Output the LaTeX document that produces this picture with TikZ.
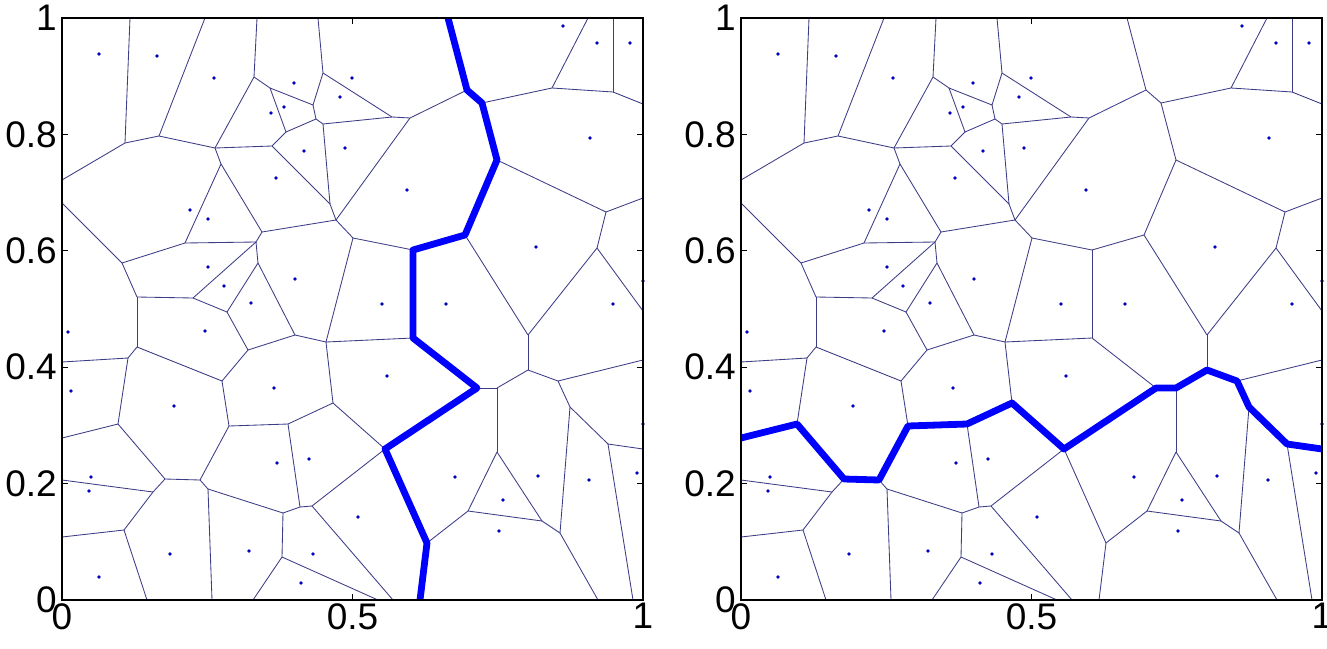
\documentclass[tikz,border=0pt]{standalone}
\usepackage{fontspec}
\setmainfont{Liberation Sans}
\definecolor{vorc}{RGB}{60,60,135}
\definecolor{dotc}{RGB}{0,0,190}
\definecolor{pathc}{RGB}{0,0,255}
\tikzset{
  vor/.style={draw=vorc,line width=0.85pt},
  crack/.style={draw=pathc,line width=6.8pt,line join=round},
  frame/.style={draw=black,line width=1.3pt},
  tick/.style={draw=black,line width=1.3pt},
  lab/.style={font=\fontsize{37}{37}\selectfont,inner sep=0pt},
}
\newcommand\vpts[1]{%
 \coordinate (#1T1) at (130,18); \coordinate (#1T2) at (205,18);
 \coordinate (#1T3) at (257,18); \coordinate (#1T4) at (318,18);
 \coordinate (#1T5) at (448,18); \coordinate (#1T6) at (588,18);
 \coordinate (#1T7) at (613,18);
 \coordinate (#1L1) at (62,180); \coordinate (#1L2) at (62,203);
 \coordinate (#1L3) at (62,362); \coordinate (#1L4) at (62,438);
 \coordinate (#1L5) at (62,480); \coordinate (#1L6) at (62,537);
 \coordinate (#1B1) at (147,600); \coordinate (#1B2) at (212,600);
 \coordinate (#1B3) at (253,600); \coordinate (#1B4) at (378,600);
 \coordinate (#1B5) at (393,600); \coordinate (#1B6) at (420,600);
 \coordinate (#1B7) at (598,600); \coordinate (#1B8) at (633,600);
 \coordinate (#1R1) at (643,104); \coordinate (#1R2) at (643,198);
 \coordinate (#1R3) at (643,311); \coordinate (#1R4) at (643,360);
 \coordinate (#1R5) at (643,449);
 \coordinate (#1A) at (125,143); \coordinate (#1B) at (159,136);
 \coordinate (#1C) at (215,148); \coordinate (#1D) at (254,77);
 \coordinate (#1E) at (272,146); \coordinate (#1F) at (221,164);
 \coordinate (#1G) at (122,263); \coordinate (#1H) at (185,243);
 \coordinate (#1I) at (137,297); \coordinate (#1J) at (193,298);
 \coordinate (#1K) at (256,242); \coordinate (#1K2) at (258,263);
 \coordinate (#1L) at (227,312); \coordinate (#1M) at (137,347);
 \coordinate (#1N) at (222,381); \coordinate (#1O) at (248,350);
 \coordinate (#1P) at (128,358); \coordinate (#1Q) at (118,424);
 \coordinate (#1R) at (165,479); \coordinate (#1S) at (200,480);
 \coordinate (#1Tv) at (229,426); \coordinate (#1U) at (208,489);
 \coordinate (#1V) at (153,492); \coordinate (#1W) at (124,530);
 \coordinate (#1X1) at (270,88); \coordinate (#1X2) at (313,105);
 \coordinate (#1X3) at (286,132); \coordinate (#1X4) at (330,204);
 \coordinate (#1X5) at (316,119); \coordinate (#1X6) at (323,124);
 \coordinate (#1X7) at (392,117); \coordinate (#1X8) at (410,118);
 \coordinate (#1X9) at (323,73);
 \coordinate (#1AA1) at (336,220); \coordinate (#1AA2) at (353,238);
 \coordinate (#1AA3) at (262,232);
 \coordinate (#1AB1) at (295,335); \coordinate (#1AB2) at (326,342);
 \coordinate (#1AC1) at (333,403); \coordinate (#1AC2) at (288,424);
 \coordinate (#1AC3) at (300,507); \coordinate (#1AC4) at (312,506);
 \coordinate (#1AC5) at (385,449); \coordinate (#1AC6) at (283,513);
 \coordinate (#1AC7) at (282,557);
 \coordinate (#1AD1) at (497,452); \coordinate (#1AD2) at (468,511);
 \coordinate (#1AD3) at (542,521); \coordinate (#1AD4) at (560,533);
 \coordinate (#1AD5) at (570,407); \coordinate (#1AD6) at (608,444);
 \coordinate (#1Y1) at (552,88); \coordinate (#1Y2) at (613,92);
 \coordinate (#1Z1) at (528,335); \coordinate (#1Z2) at (597,248);
 \coordinate (#1Z3) at (606,212); \coordinate (#1Z4) at (528,370);
 \coordinate (#1Z5) at (497,388); \coordinate (#1Z6) at (558,381);
 \coordinate (#1PA) at (467,90); \coordinate (#1PB) at (482,103);
 \coordinate (#1PC) at (497,160); \coordinate (#1PP) at (465,235);
 \coordinate (#1PQ) at (413,250); \coordinate (#1PR) at (413,338);
 \coordinate (#1PD) at (477,388); \coordinate (#1PE) at (427,543);
}
\newcommand\vedges[1]{%
 \foreach \a/\b in {T1/A,A/B,B/T2,B/C,C/D,D/T3,C/E,C/F,A/L1,L2/G,F/H,H/G,H/K,
   G/I,I/J,J/K,J/L,I/M,M/N,L/O,O/N,O/AB1,M/P,P/L3,P/Q,N/Tv,Q/L4,Q/R,R/S,S/Tv,
   Tv/AC2,S/U,U/AC6,U/B2,R/V,V/L5,V/W,W/L6,W/B1,
   D/X1,X1/X2,X1/X3,X3/E,E/X4,X3/X5,X5/X2,X5/X6,X6/X7,X7/X8,X2/X9,X9/T4,X9/X7,
   X8/PA,X6/X4,X4/AA1,X8/AA1,AA1/AA2,AA1/AA3,F/AA3,AA3/K,K/K2,K2/L,K2/AB1,
   AB1/AB2,AB2/AA2,AA2/PQ,AB2/PR,AB2/AC1,AC1/AC2,AC2/AC3,AC3/AC4,AC4/AC5,
   AC1/AC5,AC3/AC6,AC6/AC7,AC7/B3,AC7/B4,AC4/B5,
   PB/Y1,Y1/T6,Y1/Y2,Y2/T7,Y2/R1,PC/Z3,Z3/R2,Z3/Z2,Z2/R3,Z2/Z1,PP/Z1,Z1/Z4,
   Z4/Z5,Z5/PD,Z4/Z6,Z6/R4,Z6/AD5,Z5/AD1,AD1/AD2,AD1/AD3,AD2/AD3,AD2/PE,
   AD3/AD4,AD4/AD5,AD5/AD6,AD6/R5,AD6/B8,AD4/B7,
   T5/PA,PA/PB,PB/PC,PC/PP,PP/PQ,PQ/PR,PR/PD,PD/AC5,AC5/PE,PE/B6}
   {\draw[vor] (#1\a) -- (#1\b);}
 \foreach \x/\y in {99/54,157/56,214/78,294/83,352/78,340/97,284/107,271/113,
   304/151,345/148,276/178,407/190,190/210,208/219,208/267,224/286,251/303,
   205/331,68/332,71/391,295/279,382/304,446/304,387/376,274/388,174/406,
   91/477,89/491,170/554,99/577,249/551,277/463,309/459,358/517,313/554,
   301/583,563/26,597/43,630/43,590/138,536/247,613/304,643/281,455/477,
   538/476,503/500,499/531,589/480,637/473,643/424}
   {\fill[dotc] (\x,\y) circle (1.8);}
}
\newcommand\vaxes[1]{%
 \draw[frame] (62,18) rectangle (643,600);
 \foreach \t in {62,352.5,643} {\draw[tick] (\t,600) -- (\t,594); \draw[tick] (\t,18) -- (\t,24);}
 \foreach \t in {18,134.4,250.8,367.2,483.6,600} {\draw[tick] (62,\t) -- (68,\t); \draw[tick] (643,\t) -- (637,\t);}
 \node[lab,anchor=north] (#1x0) at (62,603) {0};
 \node[lab,anchor=north] (#1x5) at (352.5,603) {0.5};
 \node[lab,anchor=north] (#1x1) at (643,603) {1};
 \node[lab,anchor=east] (#1y0) at (57,600) {0};
 \node[lab,anchor=east] (#1y2) at (57,483.6) {0.2};
 \node[lab,anchor=east] (#1y4) at (57,367.2) {0.4};
 \node[lab,anchor=east] (#1y6) at (57,250.8) {0.6};
 \node[lab,anchor=east] (#1y8) at (57,134.4) {0.8};
 \node[lab,anchor=east] (#1y10) at (57,18) {1};
}
\begin{document}
\begin{tikzpicture}[x=1pt,y=-1pt]
\useasboundingbox[fill=white] (0,0) rectangle (1327,648);
\begin{scope}
 \vpts{l}
 \vedges{l}
 \draw[crack] (lT5) -- (lPA) -- (lPB) -- (lPC) -- (lPP) -- (lPQ) -- (lPR) -- (lPD) -- (lAC5) -- (lPE) -- (lB6);
 \vaxes{l}
\end{scope}
\begin{scope}[xshift=679pt]
 \vpts{r}
 \vedges{r}
 \draw[crack] (rL4) -- (rQ) -- (rR) -- (rS) -- (rTv) -- (rAC2) -- (rAC1) -- (rAC5) -- (rPD) -- (rZ5) -- (rZ4) -- (rZ6) -- (rAD5) -- (rAD6) -- (rR5);
 \vaxes{r}
\end{scope}
\end{tikzpicture}
\end{document}
